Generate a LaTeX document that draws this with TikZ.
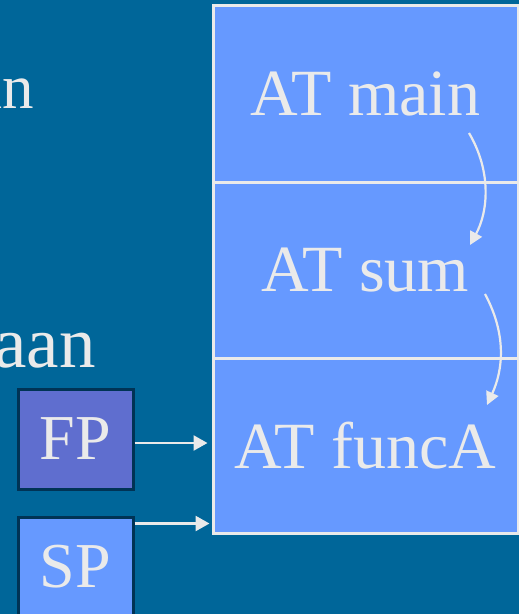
\documentclass[tikz,border=0pt]{standalone}
\usepackage{fontspec}
\setmainfont{Liberation Serif}
\usetikzlibrary{arrows.meta,calc}
\definecolor{slidebg}{HTML}{006699}
\definecolor{framefill}{HTML}{6699FF}
\definecolor{fpfill}{HTML}{5F6ECF}
\definecolor{ink}{HTML}{EAEAEA}
\definecolor{boxedge}{HTML}{003355}
\tikzset{
  cell/.style={draw=ink, line width=3pt, fill=framefill, text=ink,
    minimum width=305pt, inner sep=0pt,
    font=\fontsize{66}{70}\selectfont},
  regbox/.style={draw=boxedge, line width=3pt, text=ink,
    minimum width=115pt, minimum height=100pt, inner sep=0pt,
    font=\fontsize{64}{68}\selectfont},
  bodytext/.style={text=ink, inner sep=0pt, anchor=base east},
  ptr/.style={draw=ink, line width=2.5pt,
    -{Triangle[length=14pt,width=15pt]}},
  link/.style={draw=ink, line width=2.2pt,
    -{Triangle[length=13pt,width=13pt]}}
}
\begin{document}
\begin{tikzpicture}[x=1pt,y=-1pt]
  \useasboundingbox (0,0) rectangle (519,614);
  \clip (0,0) rectangle (519,614);
  \fill[slidebg] (0,0) rectangle (519,614);

  % slide text running in from the left
  \node[bodytext, font=\fontsize{63}{67}\selectfont] (lineA) at (34,108) {an};
  \node[bodytext, font=\fontsize{73}{77}\selectfont] (lineB) at (96,367) {aan};

  % stack of activation records
  \node[cell, minimum height=177pt] (cell1) at (365.5,93.5) {AT main};
  \node[cell, minimum height=176pt] (cell2) at (365.5,270) {AT sum};
  \node[cell, minimum height=175pt] (cell3) at (365.5,445.5) {AT funcA};

  % frame pointer and stack pointer
  \node[regbox, fill=fpfill] (FP) at (75.5,439) {\raisebox{-3pt}{FP}};
  \node[regbox, fill=framefill] (SP) at (75.5,567) {\raisebox{-3pt}{SP}};

  \draw[ptr, shorten >=4pt] ([yshift=-4pt]FP.east) -- ([yshift=-4pt]FP.east -| cell3.west);
  \draw[ptr, shorten >=2pt] ([yshift=-8pt]SP.north east) -- ([yshift=-8pt]SP.north east -| cell3.west);

  % call chain between records
  \coordinate (c1s) at (469,133);
  \coordinate (c1e) at (470,245);
  \coordinate (c2s) at (485,294);
  \coordinate (c2e) at (487,405);
  \draw[link] (c1s) .. controls (492,172) and (488,212) .. (c1e);
  \draw[link] (c2s) .. controls (507,335) and (503,370) .. (c2e);
\end{tikzpicture}
\end{document}
